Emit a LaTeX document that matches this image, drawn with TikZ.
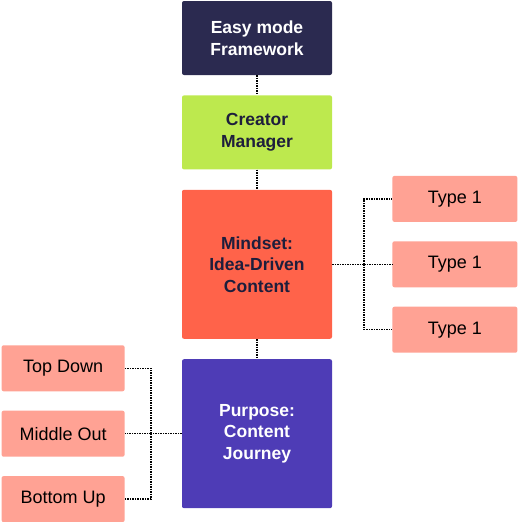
\documentclass[tikz,border=0pt]{standalone}
\usepackage{fontspec}
\setmainfont{Liberation Sans}
\usetikzlibrary{positioning}

\definecolor{navy}{HTML}{2B2A50}
\definecolor{lime}{HTML}{BDE94E}
\definecolor{tomato}{HTML}{FF634A}
\definecolor{violet}{HTML}{4E3CB6}
\definecolor{salmon}{HTML}{FFA294}
\definecolor{ink}{HTML}{1E1E3C}

\begin{document}
\begin{tikzpicture}[text centered,
        mainbox/.style={rounded corners=2pt, minimum width=150pt, align=center,
            font=\fontsize{17.5}{21.5}\selectfont\bfseries},
        sidebox/.style={rounded corners=2pt, fill=salmon, minimum height=46pt,
            font=\fontsize{18}{21}\selectfont},
        link/.style={densely dotted, line width=1.5pt}]
        \useasboundingbox (0,0) rectangle (518pt,-522pt);

        \node[mainbox, fill=navy, text=white, minimum height=74pt] (frame_box) at (257pt,-38pt) {Easy mode\\Framework};
        \node[mainbox, fill=lime, text=ink, minimum height=74pt, below = 20pt of frame_box] (creator_box) {Creator\\Manager};
        \node[mainbox, fill=tomato, text=ink, minimum height=149pt, below = 20pt of creator_box] (mindset_box) {Mindset:\\Idea-Driven\\Content};
        \node[mainbox, fill=violet, text=white, minimum height=149pt, below = 20pt of mindset_box] (purpose_box) {Purpose:\\Content\\Journey};

        \draw[link] (frame_box) -- (creator_box);
        \draw[link] (creator_box) -- (mindset_box);
        \draw[link] (mindset_box) -- (purpose_box);

        \node[sidebox, minimum width=125pt, right = 60pt of mindset_box] (type_2) {Type 1};
        \node[sidebox, minimum width=125pt, above = 19pt of type_2] (type_1) {Type 1};
        \node[sidebox, minimum width=125pt, below = 19pt of type_2] (type_3) {Type 1};

        \coordinate[right = 32pt of mindset_box.east] (type_fork);
        \draw[link] (mindset_box.east) -- (type_fork);
        \draw[link] (type_fork) |- (type_1.west);
        \draw[link] (type_fork) -- (type_2.west);
        \draw[link] (type_fork) |- (type_3.west);

        \node[sidebox, minimum width=123pt, left = 57pt of purpose_box] (dir_middle) {Middle Out};
        \node[sidebox, minimum width=123pt, above = 19pt of dir_middle] (dir_top) {Top Down};
        \node[sidebox, minimum width=123pt, below = 19pt of dir_middle] (dir_bottom) {Bottom Up};

        \coordinate[left = 31pt of purpose_box.west] (dir_fork);
        \draw[link] (purpose_box.west) -- (dir_fork);
        \draw[link] (dir_fork) |- (dir_top.east);
        \draw[link] (dir_fork) -- (dir_middle.east);
        \draw[link] (dir_fork) |- (dir_bottom.east);

    \end{tikzpicture}
\end{document}
